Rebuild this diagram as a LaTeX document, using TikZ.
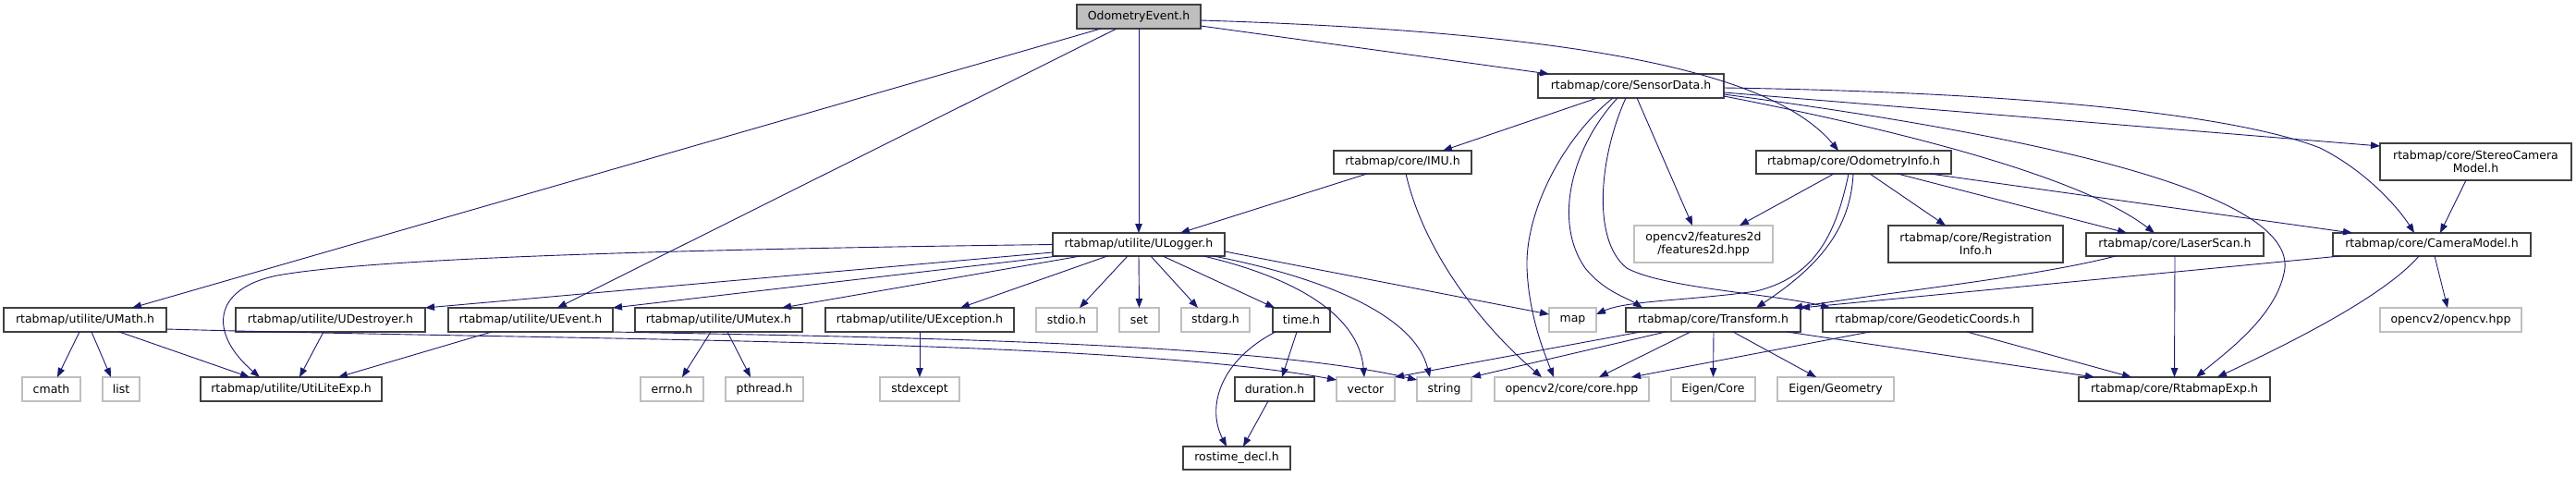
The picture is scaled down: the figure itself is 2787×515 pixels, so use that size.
\documentclass[tikz,border=0pt]{standalone}
\usepackage{fontspec}
\setmainfont{DejaVu Sans}
\usetikzlibrary{arrows.meta}
\definecolor{edgeblue}{HTML}{191970}
\definecolor{extgray}{HTML}{BFBFBF}
\definecolor{rootgray}{HTML}{BFBFBF}
\definecolor{docborder}{HTML}{404040}
\newcommand\gnode[7]{\node[#1, minimum width={#4pt-#3pt}, minimum height={#6pt-#5pt}] (#2) at ({(#3+#4)/2},{(#5+#6)/2}) {#7};}
\begin{document}
\begin{tikzpicture}[x=1pt,y=-1pt,
  box/.style={rectangle, inner sep=0pt, outer sep=0pt, font=\fontsize{12.5}{14.5}\selectfont, text=black, align=center},
  doc/.style={box, draw=docborder, fill=white, line width=1.3pt},
  ext/.style={box, draw=extgray, fill=white, line width=1.1pt},
  root/.style={box, draw=docborder, fill=rootgray, line width=1.3pt},
  edge/.style={draw=edgeblue, line width=0.9pt, -{Triangle[length=10pt,width=7.5pt]}}]
\useasboundingbox[fill=white] (0,0) rectangle (2787,515);
% row A-D
\gnode{root}{root}{1165}{1299}{5}{31}{OdometryEvent.h}
\gnode{doc}{sensor}{1664}{1865}{80}{106}{rtabmap/core/SensorData.h}
\gnode{doc}{imu}{1443}{1592}{163}{188}{rtabmap/core/IMU.h}
\gnode{doc}{odominfo}{1900}{2111}{163}{188}{rtabmap/core/OdometryInfo.h}
\gnode{doc}{stereo}{2575}{2782}{155}{195}{rtabmap/core/StereoCamera\\Model.h}
\gnode{doc}{ulogger}{1139}{1325}{252}{277}{rtabmap/utilite/ULogger.h}
\gnode{ext}{feat}{1768}{1918}{244}{284}{opencv2/features2d\\/features2d.hpp}
\gnode{doc}{reginfo}{2043}{2232}{244}{284}{rtabmap/core/Registration\\Info.h}
\gnode{doc}{laser}{2257}{2449}{252}{277}{rtabmap/core/LaserScan.h}
\gnode{doc}{camera}{2524}{2738}{252}{277}{rtabmap/core/CameraModel.h}
% row E
\gnode{doc}{umath}{4}{180}{333}{359}{rtabmap/utilite/UMath.h}
\gnode{doc}{udestroyer}{255}{460}{333}{359}{rtabmap/utilite/UDestroyer.h}
\gnode{doc}{uevent}{485}{663}{333}{359}{rtabmap/utilite/UEvent.h}
\gnode{doc}{umutex}{687}{868}{333}{359}{rtabmap/utilite/UMutex.h}
\gnode{doc}{uexception}{893}{1097}{333}{359}{rtabmap/utilite/UException.h}
\gnode{ext}{stdio}{1121}{1187}{333}{359}{stdio.h}
\gnode{ext}{nset}{1211}{1254}{333}{359}{set}
\gnode{ext}{stdarg}{1278}{1352}{333}{359}{stdarg.h}
\gnode{doc}{timeh}{1377}{1439}{333}{359}{time.h}
\gnode{ext}{nmap}{1676}{1727}{333}{359}{map}
\gnode{doc}{transform}{1759}{1948}{333}{359}{rtabmap/core/Transform.h}
\gnode{doc}{geodetic}{1972}{2199}{333}{359}{rtabmap/core/GeodeticCoords.h}
\gnode{ext}{opencvhpp}{2575}{2728}{333}{359}{opencv2/opencv.hpp}
% row F
\gnode{ext}{cmath}{24}{87}{408}{434}{cmath}
\gnode{ext}{nlist}{111}{151}{408}{434}{list}
\gnode{doc}{utilite}{217}{413}{408}{434}{rtabmap/utilite/UtiLiteExp.h}
\gnode{ext}{errno}{693}{761}{408}{434}{errno.h}
\gnode{ext}{pthread}{785}{869}{408}{434}{pthread.h}
\gnode{ext}{stdexcept}{952}{1038}{408}{434}{stdexcept}
\gnode{doc}{duration}{1336}{1422}{408}{434}{duration.h}
\gnode{ext}{vector}{1446}{1509}{408}{434}{vector}
\gnode{ext}{nstring}{1533}{1592}{408}{434}{string}
\gnode{ext}{corehpp}{1617}{1784}{408}{434}{opencv2/core/core.hpp}
\gnode{ext}{eigencore}{1808}{1899}{408}{434}{Eigen/Core}
\gnode{ext}{eigengeom}{1923}{2049}{408}{434}{Eigen/Geometry}
\gnode{doc}{rtabexp}{2249}{2456}{408}{434}{rtabmap/core/RtabmapExp.h}
% row G
\gnode{doc}{rostime}{1280}{1396}{483}{508}{rostime\_decl.h}
% edges from root
\draw[edge] ([xshift=26pt]root.south west) -- ([xshift=139pt]umath.north west);
\draw[edge] ([xshift=43pt]root.south west) -- ([xshift=118pt]uevent.north west);
\draw[edge] (root.south) -- (ulogger.north);
\draw[edge] ([yshift=-23pt]root.north east) -- ([xshift=12pt]sensor.north west);
\draw[edge] ([yshift=-17pt]root.north east) .. controls (1720,35) and (1920,80) .. ([xshift=89pt]odominfo.north west);
% SensorData
\draw[edge] ([xshift=64pt]sensor.south west) -- ([xshift=118pt]imu.north west);
\draw[edge] ([xshift=107pt]sensor.south west) -- ([xshift=63pt]feat.north west);
\draw[edge] ([xshift=81pt]sensor.south west) .. controls (1690,150) and (1650,230) .. (1652,290) .. controls (1654,340) and (1670,380) .. ([xshift=64pt]corehpp.north west);
\draw[edge] ([xshift=86pt]sensor.south west) .. controls (1700,160) and (1680,240) .. (1715,290) .. controls (1735,315) and (1760,322) .. ([xshift=18pt]transform.north west);
\draw[edge] ([xshift=95pt]sensor.south west) .. controls (1730,170) and (1722,260) .. (1760,290) .. controls (1800,312) and (1920,318) .. ([xshift=8pt]geodetic.north west);
\draw[edge] ([yshift=-15pt]sensor.north east) .. controls (2200,100) and (2420,125) .. (2510,160) .. controls (2560,185) and (2595,225) .. ([xshift=88pt]camera.north west);
\draw[edge] ([yshift=-20pt]sensor.north east) -- ([yshift=-3pt]stereo.north west);
\draw[edge] ([yshift=-22pt]sensor.north east) .. controls (2150,140) and (2480,200) .. (2472,290) .. controls (2465,340) and (2410,380) .. ([xshift=127pt]rtabexp.north west);
\draw[edge] ([yshift=-24pt]sensor.north east) .. controls (2050,140) and (2250,190) .. ([xshift=74pt]laser.north west);
% IMU
\draw[edge] ([xshift=36pt]imu.south west) -- ([xshift=138pt]ulogger.north west);
\draw[edge] ([xshift=78pt]imu.south west) .. controls (1540,270) and (1600,350) .. ([xshift=51pt]corehpp.north west);
% OdometryInfo
\draw[edge] ([xshift=84pt]odominfo.south west) -- ([xshift=114pt]feat.north west);
\draw[edge] ([xshift=123pt]odominfo.south west) -- ([xshift=62pt]reginfo.north west);
\draw[edge] ([xshift=153pt]odominfo.south west) -- ([xshift=44pt]laser.north west);
\draw[edge] ([xshift=188pt]odominfo.south west) -- ([xshift=21pt]camera.north west);
\draw[edge] ([xshift=100pt]odominfo.south west) .. controls (1985,260) and (1960,300) .. (1900,315) .. controls (1830,325) and (1760,325) .. ([yshift=-7pt]nmap.north east);
\draw[edge] ([xshift=105pt]odominfo.south west) .. controls (2002,250) and (1965,290) .. ([xshift=141pt]transform.north west);
% Stereo, LaserScan, CameraModel
\draw[edge] ([xshift=93pt]stereo.south west) -- ([xshift=116pt]camera.north west);
\draw[edge] ([xshift=32pt]laser.south west) .. controls (2200,300) and (2050,315) .. ([xshift=181pt]transform.north west);
\draw[edge] (laser.south) -- (rtabexp.north);
\draw[edge] ([xshift=8pt]camera.south west) -- (transform.north east);
\draw[edge] ([xshift=110pt]camera.south west) -- ([xshift=73pt]opencvhpp.north west);
\draw[edge] ([xshift=93pt]camera.south west) .. controls (2580,320) and (2480,370) .. ([xshift=150pt]rtabexp.north west);
% Transform
\draw[edge] ([xshift=16pt]transform.south west) -- (vector.north east);
\draw[edge] ([xshift=43pt]transform.south west) -- (nstring.north east);
\draw[edge] ([xshift=70pt]transform.south west) -- ([xshift=113pt]corehpp.north west);
\draw[edge] ([xshift=95pt]transform.south west) -- (eigencore.north);
\draw[edge] ([xshift=116pt]transform.south west) -- ([xshift=42pt]eigengeom.north west);
\draw[edge] ([xshift=174pt]transform.south west) -- ([xshift=17pt]rtabexp.north west);
% Geodetic
\draw[edge] ([xshift=51pt]geodetic.south west) -- ([xshift=148pt]corehpp.north west);
\draw[edge] ([xshift=156pt]geodetic.south west) -- ([xshift=57pt]rtabexp.north west);
% ULogger
\draw[edge] ([yshift=-21pt]ulogger.north west) -- (udestroyer.north east);
\draw[edge] ([xshift=6pt]ulogger.south west) -- (uevent.north east);
\draw[edge] ([xshift=30pt]ulogger.south west) -- ([xshift=159pt]umutex.north west);
\draw[edge] ([xshift=59pt]ulogger.south west) -- ([xshift=146pt]uexception.north west);
\draw[edge] (ulogger.west) .. controls (700,270) and (400,280) .. (300,298) .. controls (230,312) and (225,360) .. ([xshift=64pt]utilite.north west);
\draw[edge] ([xshift=81pt]ulogger.south west) -- ([xshift=47pt]stdio.north west);
\draw[edge] (ulogger.south) -- (nset.north);
\draw[edge] ([xshift=106pt]ulogger.south west) -- ([xshift=18pt]stdarg.north west);
\draw[edge] ([xshift=119pt]ulogger.south west) -- ([xshift=2pt]timeh.north west);
\draw[edge] ([xshift=163pt]ulogger.south west) .. controls (1400,300) and (1470,340) .. ([xshift=30pt]vector.north west);
\draw[edge] ([xshift=174pt]ulogger.south west) .. controls (1430,300) and (1530,340) .. ([xshift=14pt]nstring.north west);
\draw[edge] ([yshift=-20pt]ulogger.north east) -- ([yshift=-7pt]nmap.north west);
% UMath
\draw[edge] ([xshift=82pt]umath.south west) -- ([xshift=38pt]cmath.north west);
\draw[edge] ([xshift=95pt]umath.south west) -- ([xshift=9pt]nlist.north west);
\draw[edge] ([xshift=125pt]umath.south west) -- ([xshift=53pt]utilite.north west);
\draw[edge] ([yshift=-23pt]umath.north east) .. controls (600,368) and (1200,366) .. ([yshift=-3pt]vector.north west);
% UEvent, UDestroyer, UMutex, UException
\draw[edge] (uevent.south east) .. controls (900,364) and (1350,368) .. ([yshift=-3pt]nstring.north west);
\draw[edge] ([xshift=47pt]uevent.south west) -- ([xshift=149pt]utilite.north west);
\draw[edge] ([xshift=95pt]udestroyer.south west) -- ([xshift=107pt]utilite.north west);
\draw[edge] ([xshift=82pt]umutex.south west) -- ([xshift=45pt]errno.north west);
\draw[edge] ([xshift=100pt]umutex.south west) -- ([xshift=27pt]pthread.north west);
\draw[edge] (uexception.south) -- (stdexcept.north);
% time.h, duration.h
\draw[edge] ([xshift=26pt]timeh.south west) -- ([xshift=51pt]duration.north west);
\draw[edge] ([xshift=3pt]timeh.south west) .. controls (1320,390) and (1305,440) .. ([xshift=47pt]rostime.north west);
\draw[edge] ([xshift=36pt]duration.south west) -- ([xshift=65pt]rostime.north west);
\end{tikzpicture}
\end{document}
